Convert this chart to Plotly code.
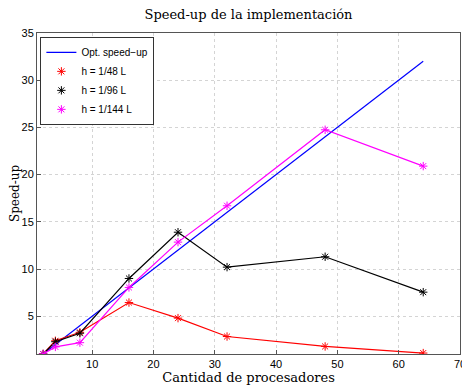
import plotly.graph_objects as go

procs = [2, 4, 8, 16, 24, 32, 48, 64]
opt = [1, 2, 4, 8, 12, 16, 24, 32]
h48 = [1.0, 2.4, 3.3, 6.45, 4.8, 2.85, 1.8, 1.1]
h96 = [1.0, 2.3, 3.2, 9.0, 13.9, 10.2, 11.3, 7.55]
h144 = [1.0, 1.75, 2.2, 8.05, 12.85, 16.7, 24.75, 20.9]

names = ["h = 1/48 L", "h = 1/96 L", "h = 1/144 L"]
colors = ["#ff0000", "#000000", "#ff00ff"]
series = [h48, h96, h144]

fig = go.Figure()
fig.add_trace(go.Scatter(x=procs, y=opt, mode="lines", name="Opt. speed\u2212up",
                         line=dict(color="#0000ff", width=1.2)))
for name, col, ys in zip(names, colors, series):
    fig.add_trace(go.Scatter(x=procs, y=ys, mode="lines", showlegend=False,
                             line=dict(color=col, width=1.2), hoverinfo="skip"))
    fig.add_trace(go.Scatter(x=procs, y=ys, mode="markers", name=name,
                             marker=dict(symbol="asterisk-open", size=7,
                                         color=col, line=dict(color=col, width=1))))

axis_common = dict(showline=True, linecolor="#555", linewidth=1, mirror=True,
                   ticks="inside", ticklen=4, tickcolor="#555",
                   showgrid=True, gridcolor="#d4d4d4", griddash="dot", gridwidth=1,
                   zeroline=False, automargin=False,
                   tickfont=dict(family="Liberation Sans, Arial", size=11, color="#000"))

# page has an 8px body margin; figure sized/margined to compensate
fig.update_layout(
    width=462, height=383,
    margin=dict(l=29, r=10, t=25, b=37),
    paper_bgcolor="white", plot_bgcolor="white",
    title=dict(text="Speed-up de la implementación", x=0.5, xanchor="center",
               xref="paper", y=0.982, yanchor="middle",
               font=dict(family="DejaVu Serif", size=13, color="#000")),
    xaxis=dict(range=[1, 70], tickvals=[10, 20, 30, 40, 50, 60, 70],
               title=dict(text="Cantidad de procesadores", standoff=2,
                          font=dict(family="DejaVu Serif", size=13, color="#000")),
               **axis_common),
    yaxis=dict(range=[1, 35], tickvals=[5, 10, 15, 20, 25, 30, 35],
               **axis_common),
    legend=dict(x=0.008, y=0.988, xanchor="left", yanchor="top",
                bgcolor="white", bordercolor="#333", borderwidth=1,
                font=dict(family="Liberation Sans, Arial", size=10, color="#000"),
                tracegroupgap=0, itemwidth=30),
    showlegend=True,
    annotations=[dict(text="Speed-up", xref="paper", yref="paper",
                      x=-0.053, y=0.5, xanchor="center", yanchor="middle",
                      textangle=-90, showarrow=False,
                      font=dict(family="DejaVu Serif", size=12, color="#000"))],
)

fig.write_html("out.html")
